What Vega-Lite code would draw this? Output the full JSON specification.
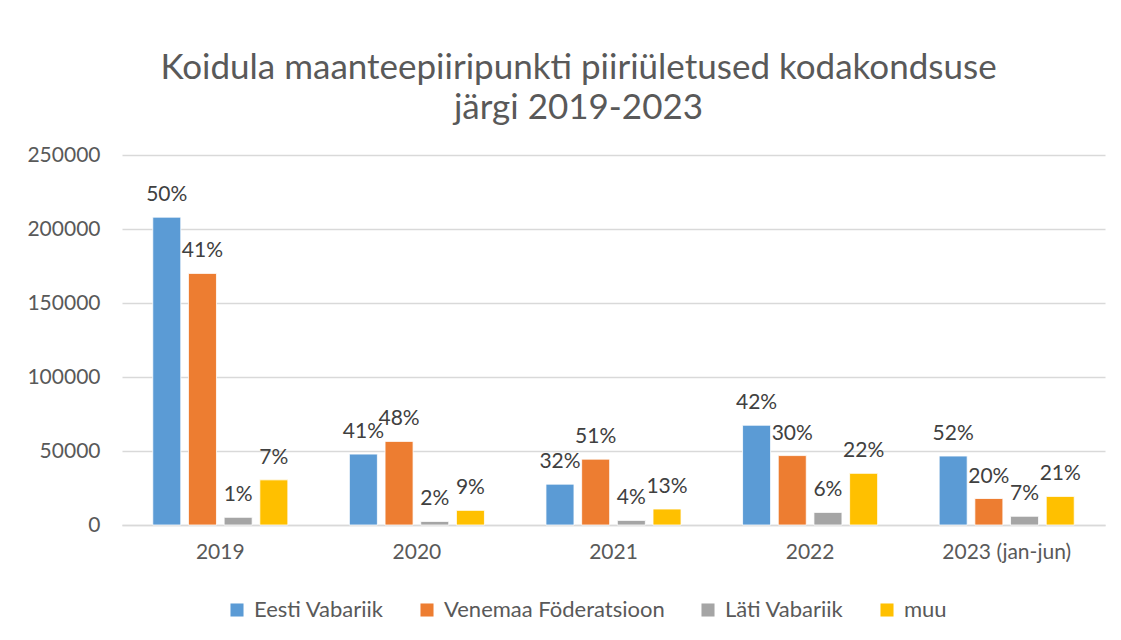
{
  "$schema": "https://vega.github.io/schema/vega-lite/v6.json",
  "width": 983,
  "height": 370,
  "autosize": {"type": "none"},
  "padding": {"left": 122, "top": 155, "right": 16, "bottom": 115},
  "background": "white",
  "title": {
    "text": ["Koidula maanteepiiripunkti piiriületused kodakondsuse", "järgi 2019-2023"],
    "font": "Lato",
    "fontSize": 35,
    "fontWeight": "normal",
    "color": "#595959",
    "lineHeight": 40,
    "anchor": "middle",
    "dx": -35,
    "offset": 18
  },
  "data": {
    "values": [
      {"aasta": "2019", "kodakondsus": "Eesti Vabariik", "vaartus": 208000, "silt": "50%"},
      {"aasta": "2019", "kodakondsus": "Venemaa Föderatsioon", "vaartus": 170000, "silt": "41%"},
      {"aasta": "2019", "kodakondsus": "Läti Vabariik", "vaartus": 5200, "silt": "1%"},
      {"aasta": "2019", "kodakondsus": "muu", "vaartus": 30500, "silt": "7%"},
      {"aasta": "2020", "kodakondsus": "Eesti Vabariik", "vaartus": 47900, "silt": "41%"},
      {"aasta": "2020", "kodakondsus": "Venemaa Föderatsioon", "vaartus": 56500, "silt": "48%"},
      {"aasta": "2020", "kodakondsus": "Läti Vabariik", "vaartus": 2400, "silt": "2%"},
      {"aasta": "2020", "kodakondsus": "muu", "vaartus": 9900, "silt": "9%"},
      {"aasta": "2021", "kodakondsus": "Eesti Vabariik", "vaartus": 27600, "silt": "32%"},
      {"aasta": "2021", "kodakondsus": "Venemaa Föderatsioon", "vaartus": 44500, "silt": "51%"},
      {"aasta": "2021", "kodakondsus": "Läti Vabariik", "vaartus": 3100, "silt": "4%"},
      {"aasta": "2021", "kodakondsus": "muu", "vaartus": 10800, "silt": "13%"},
      {"aasta": "2022", "kodakondsus": "Eesti Vabariik", "vaartus": 67400, "silt": "42%"},
      {"aasta": "2022", "kodakondsus": "Venemaa Föderatsioon", "vaartus": 46900, "silt": "30%"},
      {"aasta": "2022", "kodakondsus": "Läti Vabariik", "vaartus": 8500, "silt": "6%"},
      {"aasta": "2022", "kodakondsus": "muu", "vaartus": 34900, "silt": "22%"},
      {"aasta": "2023 (jan-jun)", "kodakondsus": "Eesti Vabariik", "vaartus": 46600, "silt": "52%"},
      {"aasta": "2023 (jan-jun)", "kodakondsus": "Venemaa Föderatsioon", "vaartus": 17900, "silt": "20%"},
      {"aasta": "2023 (jan-jun)", "kodakondsus": "Läti Vabariik", "vaartus": 5900, "silt": "7%"},
      {"aasta": "2023 (jan-jun)", "kodakondsus": "muu", "vaartus": 19300, "silt": "21%"}
    ]
  },
  "encoding": {
    "x": {
      "field": "aasta",
      "type": "nominal",
      "sort": null,
      "scale": {"paddingInner": 0.313, "paddingOuter": 0.1565},
      "axis": {
        "title": null,
        "labelAngle": 0,
        "labelFont": "Lato",
        "labelFontSize": 21,
        "labelColor": "#595959",
        "labelPadding": 16,
        "ticks": false,
        "domainColor": "#D9D9D9",
        "domainWidth": 1.5
      }
    },
    "xOffset": {
      "field": "kodakondsus",
      "type": "nominal",
      "sort": ["Eesti Vabariik", "Venemaa Föderatsioon", "Läti Vabariik", "muu"],
      "scale": {"paddingInner": 0.215, "paddingOuter": 0}
    },
    "y": {
      "field": "vaartus",
      "type": "quantitative",
      "scale": {"domain": [0, 250000], "nice": false},
      "axis": {
        "title": null,
        "values": [0, 50000, 100000, 150000, 200000, 250000],
        "format": "d",
        "labelFont": "Lato",
        "labelFontSize": 21,
        "labelColor": "#595959",
        "labelPadding": 22,
        "ticks": false,
        "domain": false,
        "gridColor": "#D9D9D9",
        "gridWidth": 1.5
      }
    }
  },
  "layer": [
    {
      "mark": {"type": "bar", "stroke": "white", "strokeWidth": 0.8},
      "encoding": {
        "color": {
          "field": "kodakondsus",
          "type": "nominal",
          "scale": {
            "domain": ["Eesti Vabariik", "Venemaa Föderatsioon", "Läti Vabariik", "muu"],
            "range": ["#5B9BD5", "#ED7D31", "#A5A5A5", "#FFC000"]
          },
          "legend": {
            "title": null,
            "orient": "none",
            "legendX": 104,
            "legendY": 444,
            "direction": "horizontal",
            "symbolType": "square",
            "symbolSize": 170,
            "symbolStrokeWidth": 0,
            "labelFont": "Lato",
            "labelFontSize": 22,
            "labelColor": "#595959",
            "labelLimit": 0,
            "columnPadding": 32,
            "labelOffset": 6
          }
        }
      }
    },
    {
      "mark": {
        "type": "text",
        "baseline": "bottom",
        "dy": -12,
        "font": "Lato",
        "fontSize": 21,
        "color": "#404040"
      },
      "encoding": {
        "text": {"field": "silt", "type": "nominal"}
      }
    }
  ],
  "config": {
    "view": {"stroke": null}
  }
}
